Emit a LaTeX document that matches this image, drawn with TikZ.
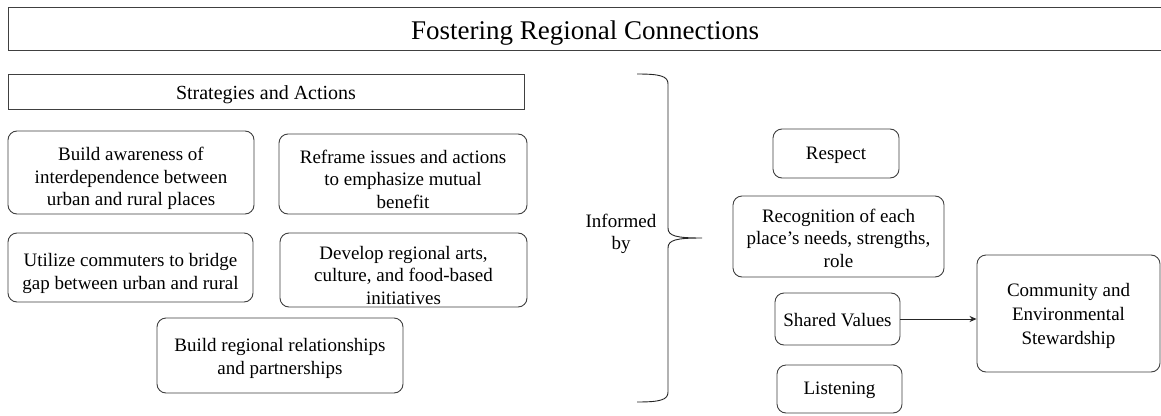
\documentclass[tikz,border=0pt]{standalone}
\usepackage{fontspec}
\setmainfont{Liberation Serif}
\usetikzlibrary{arrows.meta}
\begin{document}
\begin{tikzpicture}[x=1pt,y=-1pt,
  txt/.style={font=\rmfamily\fontsize{19}{22.5}\selectfont, align=center, inner sep=0pt},
  sqbox/.style={draw=black!75, line width=0.9pt, inner sep=0pt},
  rbox/.style={sqbox, rounded corners=9pt},
  conn/.style={draw=black!85, line width=0.9pt},
  link/.style={conn, -{Stealth[length=7pt,width=6pt]}}
]
\clip (0,0) rectangle (1161,415);
\fill[white] (0,0) rectangle (1161,415);

% title
\node[sqbox, minimum width=1154, minimum height=43] (title) at (585,28.5) {};
\node[txt, font=\rmfamily\fontsize{27}{30}\selectfont] (titlet) at ([yshift=-5pt]title.center) {Fostering Regional Connections};

% left column
\node[sqbox, minimum width=516, minimum height=35] (strat) at (266,91.5) {};
\node[txt, font=\rmfamily\fontsize{20}{23}\selectfont] (stratt) at ([yshift=-3pt]strat.center) {Strategies and Actions};

\node[rbox, minimum width=246, minimum height=83] (b1) at (131,172.5) {};
\node[txt] (b1t) at ([yshift=-6pt]b1.center) {Build awareness of\\interdependence between\\urban and rural places};
\node[rbox, minimum width=248, minimum height=80] (b2) at (403,174) {};
\node[txt] (b2t) at ([yshift=-5pt]b2.center) {Reframe issues and actions\\to emphasize mutual\\benefit};
\node[rbox, minimum width=245, minimum height=69] (b3) at (130.5,267.5) {};
\node[txt] (b3t) at ([yshift=-6pt]b3.center) {Utilize commuters to bridge\\gap between urban and rural};
\node[rbox, minimum width=247, minimum height=74] (b4) at (403.5,270) {};
\node[txt] (b4t) at ([yshift=-5pt]b4.center) {Develop regional arts,\\culture, and food-based\\initiatives};
\node[rbox, minimum width=246, minimum height=75] (b5) at (280,355.5) {};
\node[txt] (b5t) at ([yshift=-3pt]b5.center) {Build regional relationships\\and partnerships};

% informed by + brace
\node[txt] (inf) at (621,234) {Informed\\by};
\coordinate (bt) at (637,74);
\coordinate (bb) at (637,402);
\coordinate (tip) at (702,238);
\draw[conn] (bt) .. controls (660,74) and (668,76) .. (668,84) -- (668,228)
  .. controls (668,236) and (676,238) .. (tip)
  .. controls (676,238) and (668,240) .. (668,248) -- (668,392)
  .. controls (668,400) and (660,402) .. (bb);

% right column
\node[rbox, minimum width=126, minimum height=49] (resp) at (836,153.5) {};
\node[txt] (respt) at ([yshift=-1.5pt]resp.center) {Respect};
\node[rbox, minimum width=211, minimum height=81] (recog) at (838.5,236.5) {};
\node[txt] (recogt) at ([yshift=-1.5pt]recog.center) {Recognition of each\\place’s needs, strengths,\\role};
\node[rbox, minimum width=125, minimum height=52] (shv) at (837.5,319) {};
\node[txt] (shvt) at ([yshift=-1.5pt]shv.center) {Shared Values};
\node[rbox, minimum width=125, minimum height=48] (lis) at (839.5,389) {};
\node[txt] (list) at ([yshift=-1.5pt]lis.center) {Listening};
\node[rbox, minimum width=183, minimum height=117] (com) at (1068.5,313.5) {};
\node[txt, font=\rmfamily\fontsize{19}{24}\selectfont] (comt) at ([yshift=-2pt]com.center) {Community and\\Environmental\\Stewardship};

\draw[link] (shv.east) -- (shv.east -| com.west);
\end{tikzpicture}
\end{document}
